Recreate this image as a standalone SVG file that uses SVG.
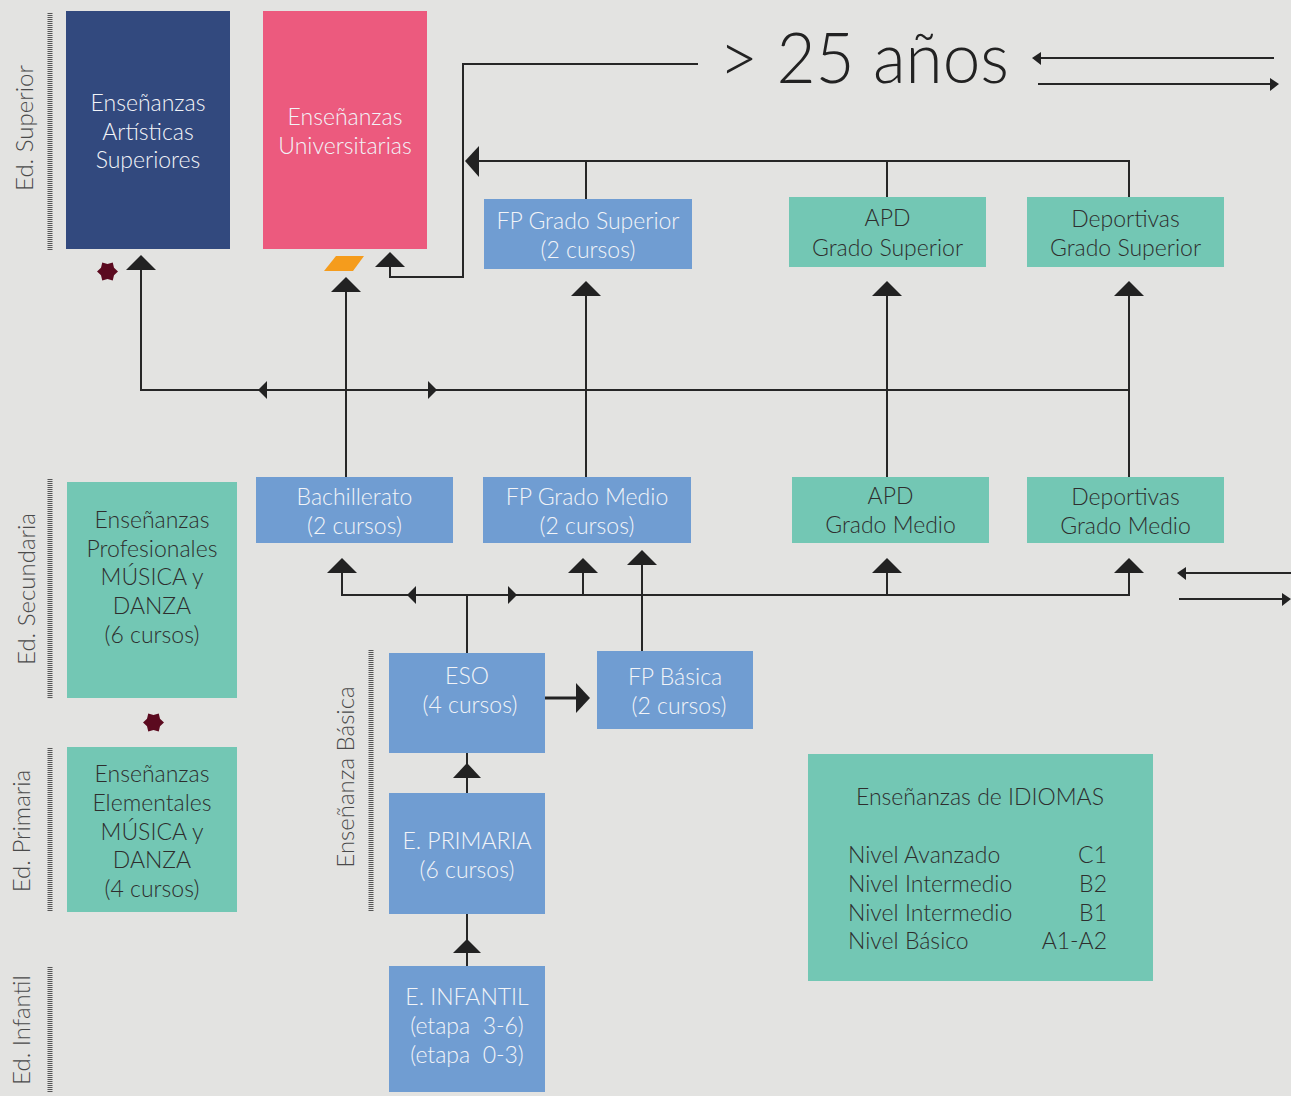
<svg xmlns="http://www.w3.org/2000/svg" width="1291" height="1096" viewBox="0 0 1291 1096">
<style>
text{font-family:Lato,"Noto Sans","Liberation Sans",sans-serif;font-weight:300}
.t{font-size:23px;text-anchor:middle}
.w{fill:#f2f4f8}
.d{fill:#2e2e2e}
.side{font-size:24px;fill:#4a4a4a;text-anchor:middle}
.blue{fill:#709dd2}
.green{fill:#73c7b4}
.ln{stroke:#262626;stroke-width:2;fill:none}
.ah{fill:#222}
.bar{stroke:#555;stroke-width:5;stroke-dasharray:1 1}
.star{fill:#5b0a1f}
</style>
<rect width="1291" height="1096" fill="#e3e3e1"/>

<g id="side-labels">
<line class="bar" x1="50" y1="13" x2="50" y2="250"/>
<text class="side" transform="translate(33,128) rotate(-90)">Ed. Superior</text>
<line class="bar" x1="50" y1="479" x2="50" y2="699"/>
<text class="side" transform="translate(35,589) rotate(-90)">Ed. Secundaria</text>
<line class="bar" x1="50" y1="748" x2="50" y2="912"/>
<text class="side" transform="translate(30,831) rotate(-90)">Ed. Primaria</text>
<line class="bar" x1="50" y1="967" x2="50" y2="1093"/>
<text class="side" transform="translate(30,1030) rotate(-90)">Ed. Infantil</text>
<line class="bar" x1="371" y1="650" x2="371" y2="912"/>
<text class="side" transform="translate(354,777) rotate(-90)">Enseñanza Básica</text>
</g>

<g id="connectors">
<polyline class="ln" points="698,64 463,64 463,277 390,277 390,266"/>
<polygon class="ah" points="390,252 375,267 405,267"/>
<polyline class="ln" points="478,161 1129,161 1129,197"/>
<line class="ln" x1="586" y1="161" x2="586" y2="199"/>
<line class="ln" x1="887" y1="161" x2="887" y2="197"/>
<polygon class="ah" points="465,161 479,146 479,177"/>
<polyline class="ln" points="141,269 141,390 1129,390"/>
<polygon class="ah" points="141,255 126,270 156,270"/>
<polygon class="ah" points="258,390 267,381 267,399"/>
<polygon class="ah" points="437,390 428,381 428,399"/>
<line class="ln" x1="346" y1="291" x2="346" y2="477"/>
<polygon class="ah" points="346,277 331,292 361,292"/>
<line class="ln" x1="586" y1="295" x2="586" y2="477"/>
<polygon class="ah" points="586,281 571,296 601,296"/>
<line class="ln" x1="887" y1="295" x2="887" y2="477"/>
<polygon class="ah" points="887,281 872,296 902,296"/>
<line class="ln" x1="1129" y1="295" x2="1129" y2="477"/>
<polygon class="ah" points="1129,281 1114,296 1144,296"/>
<polyline class="ln" points="342,571 342,595 1129,595 1129,571"/>
<polygon class="ah" points="342,558 327,573 357,573"/>
<polygon class="ah" points="1129,558 1114,573 1144,573"/>
<polygon class="ah" points="407,595 416,586 416,604"/>
<polygon class="ah" points="517,595 508,586 508,604"/>
<line class="ln" x1="467" y1="595" x2="467" y2="653"/>
<line class="ln" x1="583" y1="571" x2="583" y2="595"/>
<polygon class="ah" points="583,558 568,573 598,573"/>
<line class="ln" x1="642" y1="564" x2="642" y2="651"/>
<polygon class="ah" points="642,550 627,565 657,565"/>
<line class="ln" x1="887" y1="571" x2="887" y2="595"/>
<polygon class="ah" points="887,558 872,573 902,573"/>
<line stroke="#222" stroke-width="3" x1="545" y1="698" x2="577" y2="698"/>
<polygon class="ah" points="590,698 576,683 576,713"/>
<line class="ln" x1="467" y1="753" x2="467" y2="793"/>
<polygon class="ah" points="467,763 453,778 481,778"/>
<line class="ln" x1="467" y1="914" x2="467" y2="966"/>
<polygon class="ah" points="467,939 453,953 481,953"/>
<line class="ln" x1="1040" y1="58" x2="1274" y2="58"/>
<polygon class="ah" points="1032,58 1041,52 1041,65"/>
<line class="ln" x1="1038" y1="84" x2="1271" y2="84"/>
<polygon class="ah" points="1279,84 1270,78 1270,91"/>
<line class="ln" x1="1184" y1="573" x2="1291" y2="573"/>
<polygon class="ah" points="1177,573 1186,567 1186,580"/>
<line class="ln" x1="1179" y1="599" x2="1283" y2="599"/>
<polygon class="ah" points="1291,599 1282,593 1282,606"/>
</g>

<g id="markers">
<polygon class="star" points="118,271.5 114,275.25 112.75,280.59 107.5,279 102.25,280.59 101,275.25 97,271.5 101,267.75 102.25,262.41 107.5,264 112.75,262.41 114,267.75"/>
<polygon class="star" points="164,722.5 160,726.25 158.75,731.59 153.5,730 148.25,731.59 147,726.25 143,722.5 147,718.75 148.25,713.41 153.5,715 158.75,713.41 160,718.75"/>
<polygon fill="#f59c1c" points="336,256 364,256 353,271 324,271"/>
</g>

<g id="over25">
<text x="719" y="83" font-size="70" fill="#222" textLength="290" lengthAdjust="spacingAndGlyphs">&gt; 25 años</text>
</g>

<g id="artisticas">
<rect x="66" y="11" width="164" height="238" fill="#32497e"/>
<text class="t w" x="148" y="111">Enseñanzas</text>
<text class="t w" x="148" y="140">Artísticas</text>
<text class="t w" x="148" y="168">Superiores</text>
</g>
<g id="universitarias">
<rect x="263" y="11" width="164" height="238" fill="#ec5a7e"/>
<text class="t w" x="345" y="125">Enseñanzas</text>
<text class="t w" x="345" y="154">Universitarias</text>
</g>
<g id="fp-gs">
<rect class="blue" x="484" y="199" width="208" height="70"/>
<text class="t w" x="588" y="229">FP Grado Superior</text>
<text class="t w" x="588" y="258">(2 cursos)</text>
</g>
<g id="apd-gs">
<rect class="green" x="789" y="197" width="197" height="70"/>
<text class="t d" x="887.5" y="226">APD</text>
<text class="t d" x="887.5" y="256">Grado Superior</text>
</g>
<g id="dep-gs">
<rect class="green" x="1027" y="197" width="197" height="70"/>
<text class="t d" x="1125.5" y="227">Deportivas</text>
<text class="t d" x="1125.5" y="256">Grado Superior</text>
</g>
<g id="bachillerato">
<rect class="blue" x="256" y="477" width="197" height="66"/>
<text class="t w" x="354.5" y="505">Bachillerato</text>
<text class="t w" x="354.5" y="534">(2 cursos)</text>
</g>
<g id="fp-gm">
<rect class="blue" x="483" y="477" width="208" height="66"/>
<text class="t w" x="587" y="505">FP Grado Medio</text>
<text class="t w" x="587" y="534">(2 cursos)</text>
</g>
<g id="apd-gm">
<rect class="green" x="792" y="477" width="197" height="66"/>
<text class="t d" x="890.5" y="504">APD</text>
<text class="t d" x="890.5" y="533">Grado Medio</text>
</g>
<g id="dep-gm">
<rect class="green" x="1027" y="477" width="197" height="66"/>
<text class="t d" x="1125.5" y="505">Deportivas</text>
<text class="t d" x="1125.5" y="534">Grado Medio</text>
</g>
<g id="profesionales">
<rect class="green" x="67" y="482" width="170" height="216"/>
<text class="t d" x="152" y="528">Enseñanzas</text>
<text class="t d" x="152" y="557">Profesionales</text>
<text class="t d" x="152" y="585">MÚSICA y</text>
<text class="t d" x="152" y="614">DANZA</text>
<text class="t d" x="152" y="643">(6 cursos)</text>
</g>
<g id="elementales">
<rect class="green" x="67" y="747" width="170" height="165"/>
<text class="t d" x="152" y="782">Enseñanzas</text>
<text class="t d" x="152" y="811">Elementales</text>
<text class="t d" x="152" y="840">MÚSICA y</text>
<text class="t d" x="152" y="868">DANZA</text>
<text class="t d" x="152" y="897">(4 cursos)</text>
</g>
<g id="eso">
<rect class="blue" x="389" y="653" width="156" height="100"/>
<text class="t w" x="467" y="684">ESO</text>
<text class="t w" x="470" y="713">(4 cursos)</text>
</g>
<g id="fp-basica">
<rect class="blue" x="597" y="651" width="156" height="78"/>
<text class="t w" x="675" y="685">FP Básica</text>
<text class="t w" x="679" y="714">(2 cursos)</text>
</g>
<g id="primaria">
<rect class="blue" x="389" y="793" width="156" height="121"/>
<text class="t w" x="467" y="849">E. PRIMARIA</text>
<text class="t w" x="467" y="878">(6 cursos)</text>
</g>
<g id="infantil">
<rect class="blue" x="389" y="966" width="156" height="126"/>
<text class="t w" x="467" y="1005">E. INFANTIL</text>
<text class="t w" x="467" y="1034" xml:space="preserve">(etapa  3-6)</text>
<text class="t w" x="467" y="1063" xml:space="preserve">(etapa  0-3)</text>
</g>
<g id="idiomas">
<rect class="green" x="808" y="754" width="345" height="227"/>
<text class="t d" x="980" y="805">Enseñanzas de IDIOMAS</text>
<text class="d" font-size="23" x="848" y="863">Nivel Avanzado</text>
<text class="d" font-size="23" x="848" y="892">Nivel Intermedio</text>
<text class="d" font-size="23" x="848" y="921">Nivel Intermedio</text>
<text class="d" font-size="23" x="848" y="949">Nivel Básico</text>
<text class="d" font-size="23" x="1107" y="863" text-anchor="end">C1</text>
<text class="d" font-size="23" x="1107" y="892" text-anchor="end">B2</text>
<text class="d" font-size="23" x="1107" y="921" text-anchor="end">B1</text>
<text class="d" font-size="23" x="1107" y="949" text-anchor="end">A1-A2</text>
</g>
</svg>
